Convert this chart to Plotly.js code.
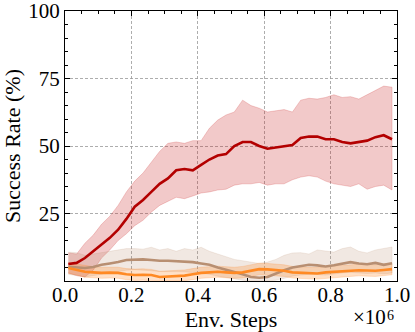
<!DOCTYPE html>
<html>
<head>
<meta charset="utf-8">
<script src="https://cdn.plot.ly/plotly-3.0.1.min.js"></script>
<style>
  html, body { margin: 0; padding: 0; background: #fff; }
  #chart { width: 415px; height: 332px; }
</style>
</head>
<body>
<div id="chart"></div>
<script>
// env steps (x 1e6)
const steps = [
    0.01, 0.035, 0.06, 0.085, 0.11, 0.135, 0.16, 0.185, 0.21, 0.235,
    0.26, 0.285, 0.31, 0.335, 0.36, 0.385, 0.41, 0.435, 0.46, 0.485,
    0.51, 0.535, 0.56, 0.585, 0.61, 0.635, 0.66, 0.685, 0.71, 0.735,
    0.76, 0.785, 0.81, 0.835, 0.86, 0.885, 0.91, 0.935, 0.96, 0.985,
];

const redMean = [
    6.3, 6.7, 8.5, 11, 13.5, 16, 19, 23, 27.5, 30,
    33, 36, 38, 41, 41.5, 41, 43, 45, 46.5, 47,
    50, 51.5, 51.5, 50, 49, 49.5, 50, 50.4, 53, 53.5,
    53.5, 52.5, 52.5, 51.5, 51, 51.5, 52, 53.3, 54, 52.5,
];
const redUpper = [
    10.4, 10, 14, 17, 21, 24, 28, 33, 37, 40,
    44, 48, 51, 51.5, 51, 52, 52, 56.6, 59.6, 61.5,
    62.6, 67, 65, 64, 62.6, 63, 63.5, 62.6, 67, 67.7,
    67.4, 68, 69, 68, 68.3, 67.4, 69, 70.5, 72.2, 71.8,
];
const redLower = [
    3, 2, 1.5, 4, 8.5, 11.5, 15, 17.5, 20.5, 22.5,
    25.5, 28, 29.5, 31, 30.5, 31.5, 32.6, 33, 33.7, 34,
    35.5, 36, 36, 36.5, 35.5, 36, 36, 37.5, 38.5, 39,
    38.5, 37, 36, 35.5, 35, 36, 34, 35, 35.5, 33.7,
];

const tanMean = [
    5.3, 5, 4.8, 5.2, 6, 6.5, 7, 7.8, 8, 8,
    7.8, 7.5, 7.5, 7.3, 7.2, 7, 6.5, 6, 5, 4.2,
    3.5, 2.5, 1.5, 1.2, 1.5, 2.8, 4, 5, 5.5, 6,
    5.8, 5.4, 5.8, 6.5, 7, 6.5, 6.2, 6.7, 6, 6.6,
];
const tanUpper = [
    10.7, 10.5, 9.5, 10, 10.4, 11, 11.5, 12, 12, 11.8,
    12.5, 11.5, 12, 11, 12, 11.5, 12.5, 11, 10, 9,
    8, 7.5, 7, 6.5, 7, 8, 9.5, 10.4, 10.5, 10,
    11.5, 11, 10.7, 12, 12.6, 11, 10.4, 11.5, 12, 12.6,
];
const tanLower = [
    2.5, 2, 1.5, 2, 2.5, 3, 3.5, 4, 4.2, 4,
    3.8, 3.5, 3.5, 3.5, 3.4, 3.2, 2.8, 2.5, 1.8, 1.2,
    0.8, 0.3, 0, 0, 0, 0.3, 1, 1.8, 2.2, 2.5,
    2.4, 2.2, 2.5, 3, 3.2, 3, 2.8, 3, 2.6, 3,
];

const orangeMean = [
    4.8, 4.2, 3.4, 3.2, 3, 3.1, 3, 2.5, 2.2, 2.3,
    2.2, 1.5, 1.6, 1.9, 2, 2.5, 3, 3.2, 3.4, 3.2,
    3, 3.2, 3.8, 4.4, 4.3, 4, 3.8, 3.2, 3, 2.9,
    2.8, 3.2, 3.4, 3.6, 3.8, 4, 3.9, 3.8, 4.1, 4.4,
];
const orangeUpper = [
    6.8, 6.3, 5.6, 5.3, 5.1, 5.2, 5.1, 4.6, 4.4, 4.5,
    4.3, 3.6, 3.7, 4, 4.1, 4.6, 5.1, 5.3, 5.5, 5.3,
    5.1, 5.4, 6, 6.6, 6.5, 6.2, 6, 5.4, 5.2, 5.1,
    5, 5.4, 5.6, 5.8, 6, 6.2, 6.1, 6, 6.3, 6.6,
];
const orangeLower = [
    2.8, 2.2, 1.4, 1.2, 1, 1.1, 1, 0.5, 0.2, 0.3,
    0.2, 0, 0, 0, 0.1, 0.5, 1, 1.2, 1.4, 1.2,
    1, 1.1, 1.7, 2.3, 2.2, 1.9, 1.7, 1.1, 0.9, 0.8,
    0.7, 1.1, 1.3, 1.5, 1.7, 1.9, 1.8, 1.7, 2, 2.3,
];

const yTicks = [25, 50, 75, 100];
const xTicks = [0, 0.2, 0.4, 0.6, 0.8, 1.0];

function band(upper, lower, fill, edge) {
    return {
        x: steps.concat(steps.slice().reverse()),
        y: upper.concat(lower.slice().reverse()),
        type: "scatter",
        mode: "lines",
        fill: "toself",
        fillcolor: fill,
        line: { color: edge, width: 0.8 },
        hoverinfo: "skip",
        showlegend: false,
    };
}

function meanLine(ys, color) {
    return {
        x: steps,
        y: ys,
        type: "scatter",
        mode: "lines",
        line: { color: color, width: 2.6 },
        showlegend: false,
    };
}

const serif = "Liberation Serif, Times New Roman, serif";

const axisCommon = {
    showline: true,
    linecolor: "#000",
    linewidth: 1,
    mirror: "ticks",
    ticks: "inside",
    ticklen: 5,
    tickwidth: 1,
    tickcolor: "#000",
    showgrid: true,
    gridcolor: "#999",
    gridwidth: 0.8,
    griddash: "3px,2px",
    zeroline: false,
    tickfont: { family: serif, size: 21, color: "#000" },
};

const layout = {
    width: 415,
    height: 332,
    margin: { l: 65, r: 18, t: 11, b: 51 },
    paper_bgcolor: "#fff",
    plot_bgcolor: "#fff",
    font: { family: serif, color: "#000" },
    xaxis: Object.assign({}, axisCommon, {
        range: [0, 1.0],
        tickvals: xTicks,
        ticktext: xTicks.map((v) => v.toFixed(1)),
        ticklabelstandoff: -5,
        minor: { ticks: "inside", dtick: 0.05, ticklen: 3, tickcolor: "#000", showgrid: false },
        title: { text: "Env. Steps", font: { family: serif, size: 22 }, standoff: 11 },
    }),
    yaxis: Object.assign({}, axisCommon, {
        range: [0, 100.02],
        tickvals: yTicks,
        ticklabeloverflow: "allow",
        minor: { ticks: "inside", dtick: 5, ticklen: 3, tickcolor: "#000", showgrid: false },
        title: { text: "Success Rate (%)", font: { family: serif, size: 22 }, standoff: 10 },
    }),
    annotations: [
        {
            xref: "paper",
            yref: "paper",
            x: 0.97,
            y: -0.135,
            xanchor: "right",
            yanchor: "middle",
            showarrow: false,
            borderpad: 0,
            text: "×10",
            font: { family: serif, size: 21, color: "#000" },
        },
        {
            xref: "paper",
            yref: "paper",
            x: 0.968,
            y: -0.126,
            xanchor: "left",
            yanchor: "middle",
            showarrow: false,
            borderpad: 0,
            text: "6",
            font: { family: serif, size: 14, color: "#000" },
        },
    ],
};

Plotly.newPlot(
    "chart",
    [
        band(redUpper, redLower, "rgba(200,30,30,0.24)", "rgba(200,30,30,0.25)"),
        band(tanUpper, tanLower, "rgba(185,140,110,0.2)", "rgba(185,140,110,0.2)"),
        band(orangeUpper, orangeLower, "rgba(255,130,30,0.25)", "rgba(255,130,30,0.25)"),
        meanLine(redMean, "#b30000"),
        meanLine(tanMean, "#b88f72"),
        meanLine(orangeMean, "#ff8a24"),
    ],
    layout,
    { staticPlot: true, displayModeBar: false },
);
</script>
</body>
</html>
